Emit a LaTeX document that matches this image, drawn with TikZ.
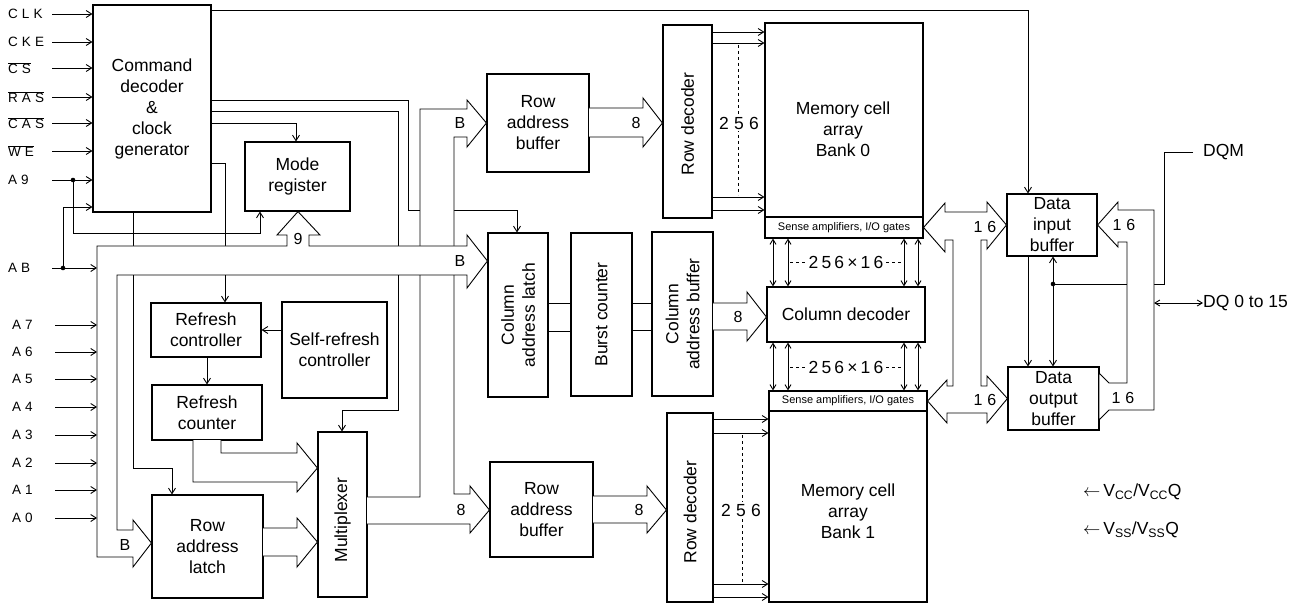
\documentclass[tikz,border=0pt]{standalone}
\usepackage{fontspec}
\setmainfont{Liberation Sans}
\newfontfamily\spc[LetterSpace=30]{Liberation Sans}
\newfontfamily\spcb[LetterSpace=18]{Liberation Sans}
\usetikzlibrary{arrows.meta}
\newcommand\boxfont{\fontsize{17.5}{21}\selectfont}
\newcommand\lblfont{\spc\fontsize{13.5}{16}\selectfont}
\newcommand\busfont{\fontsize{16}{18}\selectfont}
\newcommand\sensefont{\fontsize{11}{12}\selectfont}
\newcommand\ovl[1]{$\overline{\hbox{\lblfont #1}}$}
\tikzset{
  blk/.style={draw, line width=1.1pt, fill=white, inner sep=0pt, align=center, font=\boxfont},
  wire/.style={line width=0.9pt},
  arr/.style={wire, -{Straight Barb[length=5.5pt,width=7pt]}},
  darr/.style={wire, {Straight Barb[length=5pt,width=6pt]}-{Straight Barb[length=5pt,width=6pt]}},
  bus/.style={draw, fill=white, line width=0.9pt, line join=miter},
  inl/.style={anchor=west, inner sep=0pt, font=\lblfont},
  bl/.style={font=\busfont, inner sep=0pt},
  rot/.style={rotate=90, align=center, font=\boxfont, inner sep=0pt},
  ctext/.style={align=center, font=\boxfont, inner sep=0pt}
}
\begin{document}
\begin{tikzpicture}[x=1pt,y=-1pt]
\useasboundingbox (0,0) rectangle (1310,604);
% ---------- blocks ----------
\node[blk, minimum width=118, minimum height=207] (cmd) at (152,108.5) {Command\\decoder\\\&\\clock\\generator};
\node[blk, minimum width=105, minimum height=69] (modereg) at (297.5,176.5) {Mode\\register};
\node[blk, minimum width=110, minimum height=54] (rctrl) at (206,330) {Refresh\\controller};
\node[blk, minimum width=105, minimum height=96] (srctrl) at (334.5,350) {Self-refresh\\controller};
\node[blk, minimum width=110, minimum height=55] (rcnt) at (207,412.5) {Refresh\\counter};
\node[blk, minimum width=111, minimum height=103] (rowlatch) at (207.5,546.5) {Row\\address\\latch};
\node[blk, minimum width=49, minimum height=165] (mux) at (342.5,514.5) {};
\node[rot] at (342.5,520) {Multiplexer};
\node[blk, minimum width=102, minimum height=98] (rab0) at (538,123) {Row\\address\\buffer};
\node[blk, minimum width=103, minimum height=95] (rab1) at (541.5,509.5) {Row\\address\\buffer};
\node[blk, minimum width=60, minimum height=164] (collatch) at (518,315) {};
\node[rot] at (518,315) {Column\\address latch};
\node[blk, minimum width=61, minimum height=163] (burst) at (601.5,314.5) {};
\node[rot] at (601.5,314.5) {Burst counter};
\node[blk, minimum width=61, minimum height=164] (colbuf) at (682.5,314) {};
\node[rot] at (682.5,314) {Column\\address buffer};
\node[blk, minimum width=49, minimum height=193] (rd0) at (687.5,121.5) {};
\node[rot] at (687.5,124) {Row decoder};
\node[blk, minimum width=46, minimum height=189] (rd1) at (690,507.5) {};
\node[rot] at (690,512) {Row decoder};
\node[blk, minimum width=158, minimum height=194] (bank0) at (844,120) {};
\node[ctext] at (843,129) {Memory cell\\array\\Bank 0};
\node[blk, minimum width=158, minimum height=21, font=\sensefont] (sa0) at (844,227.5) {Sense amplifiers, I/O gates};
\node[blk, minimum width=158, minimum height=55] (coldec) at (846,314.5) {Column decoder};
\node[blk, minimum width=158, minimum height=20, font=\sensefont] (sa1) at (848,401) {Sense amplifiers, I/O gates};
\node[blk, minimum width=158, minimum height=191] (bank1) at (848,506.5) {};
\node[ctext] at (848,511) {Memory cell\\array\\Bank 1};
\node[blk, minimum width=90, minimum height=62] (dib) at (1052,225) {Data\\input\\buffer};
\node[blk, minimum width=91, minimum height=63] (dob) at (1053.5,398.5) {Data\\output\\buffer};
% ---------- input labels ----------
\node[inl] (iclk) at (8,14) {CLK};
\node[inl] (icke) at (8,42) {CKE};
\node[inl] (ics) at (8,68) {\ovl{CS}};
\node[inl] (iras) at (8,97) {\ovl{RAS}};
\node[inl] (icas) at (8,123) {\ovl{CAS}};
\node[inl] (iwe) at (8,151) {\ovl{WE}};
\node[inl] (ia9) at (8,180) {A9};
\node[inl] (ia8) at (8,268) {AB};
\node[inl] (ia7) at (12,325) {A7};
\node[inl] (ia6) at (12,352) {A6};
\node[inl] (ia5) at (12,379) {A5};
\node[inl] (ia4) at (12,407) {A4};
\node[inl] (ia3) at (12,435) {A3};
\node[inl] (ia2) at (12,463) {A2};
\node[inl] (ia1) at (12,490) {A1};
\node[inl] (ia0) at (12,518) {A0};
\foreach \n in {iclk,icke,ics,iras,icas,iwe,ia9}
  \draw[arr] (\n.east -| 52,0) -- (cmd.west |- \n.east);
\foreach \n in {ia7,ia6,ia5,ia4,ia3,ia2,ia1,ia0}
  \draw[arr] (\n.east -| 55,0) -- (97,0 |- \n.east);
\coordinate (d9) at (73,180);
\coordinate (d8) at (63,268);
\fill (d9) circle[radius=2.3pt];
\fill (d8) circle[radius=2.3pt];
\draw[arr] (ia8.east -| 52,0) -- (97,268);
\draw[arr] (d8) |- (cmd.west |- 0,207);
\draw[arr] (d9) |- (260,233) -- (modereg.south -| 260,0);
% ---------- control wires ----------
\draw[arr] (cmd.east |- 0,10) -| (dib.north -| 1028,0);
\draw[arr] (cmd.east |- 0,100) -- (408,100) -- (408,210) -| (collatch.north -| 517,0);
\draw[arr] (cmd.east |- 0,111) -| (398,410) -| (mux.north -| 342,0);
\draw[arr] (cmd.east |- 0,123) -| (modereg.north -| 296,0);
\draw[arr] (cmd.east |- 0,163) -| (rctrl.north -| 225,0);
\draw[arr] (cmd.south -| 133,0) |- (172,468) -- (rowlatch.north -| 172,0);
\draw[arr] (rctrl.south -| 207,0) -- (rcnt.north -| 207,0);
\draw[arr] (srctrl.west |- 0,330) -- (rctrl.east |- 0,330);
\draw[wire] (collatch.east |- 0,303) -- (burst.west |- 0,303);
\draw[wire] (collatch.east |- 0,331) -- (burst.west |- 0,331);
\draw[wire] (burst.east |- 0,303) -- (colbuf.west |- 0,303);
\draw[wire] (burst.east |- 0,330) -- (colbuf.west |- 0,330);
% row decoder outputs
\foreach \y in {32,43,197,210} \draw[arr] (rd0.east |- 0,\y) -- (bank0.west |- 0,\y);
\foreach \y in {419,433,584,597} \draw[arr] (rd1.east |- 0,\y) -- (bank1.west |- 0,\y);
\draw[wire, dashed] (738,45) -- (738,195);
\draw[wire, dashed] (742,435) -- (742,582);
\node[fill=white, inner sep=2pt, font=\spc\boxfont] at (739,123) {256};
\node[fill=white, inner sep=2pt, font=\spc\boxfont] at (741,510) {256};
% sense amp <-> column decoder
\foreach \x in {773,788,904,918} {
  \draw[darr] (sa0.south -| \x,0) -- (coldec.north -| \x,0);
  \draw[darr] (coldec.south -| \x,0) -- (sa1.north -| \x,0);
}
\draw[wire, dashed] (790,262) -- (902,262);
\draw[wire, dashed] (790,367) -- (902,367);
\node[fill=white, inner sep=2pt, font=\spcb\boxfont] at (846,262) {256×16};
\node[fill=white, inner sep=2pt, font=\spcb\boxfont] at (846,367) {256×16};
% data buffers
\draw[arr] (dib.south -| 1028,0) -- (dob.north -| 1028,0);
\node[anchor=west, inner sep=0pt, font=\boxfont] (dqm) at (1203,152) {DQM};
\coordinate (dd) at (1053,284);
\draw[wire] (dqm.west) ++(-10,0) -| (1164,284) -- (dd);
\fill (dd) circle[radius=2.3pt];
\draw[arr] (dd) -- (dib.south -| dd);
\draw[arr] (dd) -- (dob.north -| dd);
\node[anchor=west, inner sep=0pt, font=\boxfont] (dq) at (1203,303) {DQ 0 to 15};
\draw[darr] (1154,303) -- (dq.west);
\node[anchor=west, inner sep=0pt, font=\boxfont] at (1083,492) {$\leftarrow$\,V\textsubscript{CC}/V\textsubscript{CC}Q};
\node[anchor=west, inner sep=0pt, font=\boxfont] at (1083,530) {$\leftarrow$\,V\textsubscript{SS}/V\textsubscript{SS}Q};
% ---------- buses ----------
% multiplexer output bus to both row address buffers
\filldraw[bus] (367,497) -- (420,497) -- (420,109) -- (467,109) -- (467,100) -- (rab0.west |- 0,123) -- (467,147) -- (467,137) -- (454,137) -- (454,494) -- (470,494) -- (470,486) -- (rab1.west |- 0,510) -- (470,533) -- (470,524) -- (367,524);
% main address bus
\filldraw[bus] (rowlatch.west |- 0,543) -- (133,520) -- (133,530) -- (117,530) -- (117,275) -- (467,275) -- (467,288) -- (collatch.west |- 0,261) -- (467,235) -- (467,246) -- (309,246) -- (309,235) -- (320,235) -- (modereg.south -| 298,0) -- (277,235) -- (287,235) -- (287,246) -- (97,246) -- (97,557) -- (133,557) -- (133,567) -- cycle;
% refresh counter -> mux
\filldraw[bus] (221,440) -- (221,453) -- (297,453) -- (297,443) -- (mux.west |- 0,468) -- (297,492) -- (297,482) -- (193,482) -- (193,440);
% row latch -> mux
\filldraw[bus] (263,528) -- (297,528) -- (297,518) -- (mux.west |- 0,542) -- (297,567) -- (297,556) -- (263,556);
% row address buffers -> row decoders
\filldraw[bus] (589,108) -- (643,108) -- (643,98) -- (rd0.west |- 0,123) -- (643,147) -- (643,137) -- (589,137);
\filldraw[bus] (593,496) -- (647,496) -- (647,486) -- (rd1.west |- 0,510) -- (647,533) -- (647,523) -- (593,523);
% column address buffer -> column decoder
\filldraw[bus] (713,303) -- (747,303) -- (747,292) -- (coldec.west |- 0,317) -- (747,341) -- (747,330) -- (713,330);
% sense amps <-> data buffers
\filldraw[bus] (sa0.east) -- (945,203) -- (945,212) -- (987,212) -- (987,202) -- (dib.west) -- (987,249) -- (987,240) -- (981,240) -- (981,386) -- (987,386) -- (987,376) -- (dob.west) -- (987,423) -- (987,413) -- (947,413) -- (947,423) -- (sa1.east) -- (947,380) -- (947,386) -- (953,386) -- (953,240) -- (945,240) -- (945,252) -- cycle;
% data buffers <-> DQ
\filldraw[bus] (dib.east) -- (1118,202) -- (1118,210) -- (1154,210) -- (1154,410) -- (1109,410) -- (1099,420) -- (1099,373) -- (1109,383) -- (1127,383) -- (1127,242) -- (1118,242) -- (1118,247) -- cycle;
% ---------- bus labels ----------
\node[bl] at (125,545) {B};
\node[bl] at (298,239) {9};
\node[bl] at (460,123) {B};
\node[bl] at (460,261) {B};
\node[bl] at (461,510) {8};
\node[bl] at (636,123) {8};
\node[bl] at (639,510) {8};
\node[bl] at (738,317) {8};
\node[bl, font=\spc\busfont] at (985,227) {16};
\node[bl, font=\spc\busfont] at (985,400) {16};
\node[bl, font=\spc\busfont] at (1124,225) {16};
\node[bl, font=\spc\busfont] at (1123,398) {16};
\end{tikzpicture}
\end{document}
